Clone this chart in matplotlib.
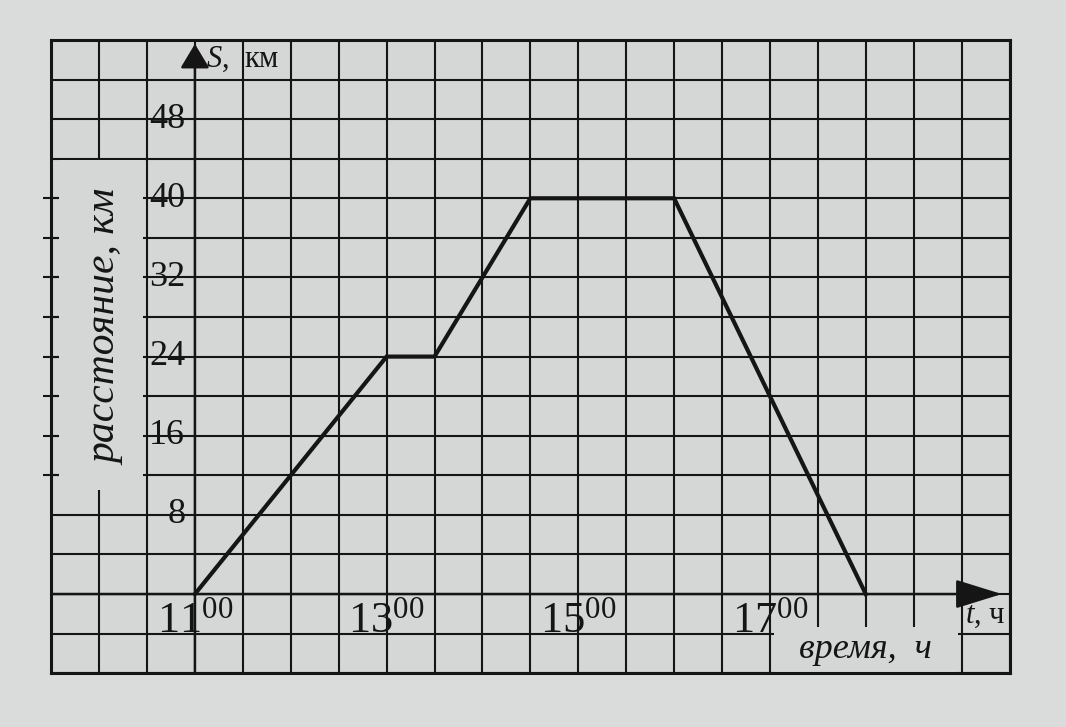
import matplotlib
matplotlib.use('Agg')
import matplotlib.pyplot as plt
import numpy as np
from matplotlib.patches import Rectangle

# route of the trip: time (hours) and distance (km)
times = [11.0, 13.0, 13.5, 14.5, 16.0, 18.0]
dist = [0, 24, 24, 40, 40, 0]

y_tick_values = [8, 16, 24, 32, 40, 48]
x_tick_hours = [11, 13, 15, 17]

paper = '#d5d7d6'
ink = '#151515'

plt.rcParams['font.family'] = ['Liberation Serif', 'DejaVu Serif']
plt.rcParams['mathtext.fontset'] = 'custom'
plt.rcParams['mathtext.rm'] = 'Liberation Serif'
plt.rcParams['mathtext.it'] = 'Liberation Serif:italic'

fig = plt.figure(figsize=(10.66, 7.27), dpi=100, facecolor='#dadcdb')
ax = fig.add_axes([0.048, 0.074, 0.899, 0.871])
ax.set_facecolor(paper)
ax.set_xlim(9.5, 19.5)
ax.set_ylim(-8, 56)

# graph paper grid: half hour columns, 4 km rows
ax.set_xticks(np.arange(9.5, 19.51, 0.5))
ax.set_yticks(np.arange(-8, 56.1, 4))
ax.tick_params(length=0, labelbottom=False, labelleft=False)
ax.grid(True, color=ink, lw=1.5)
for s in ax.spines.values():
    s.set_linewidth(2.2)
    s.set_color(ink)

# blank areas behind the axis titles
ax.add_patch(Rectangle((9.58, 10.5), 0.88, 33.4, facecolor=paper, edgecolor='none', zorder=2))
ax.add_patch(Rectangle((17.04, -8), 1.92, 4.7, facecolor=paper, edgecolor='none', zorder=2))
stub_rows = np.arange(12, 41, 4)
ax.plot([9.5] * len(stub_rows), stub_rows, ls='none', marker='_', ms=12, mew=1.5,
        color=ink, clip_on=False, zorder=3)

# axes with arrows
ax.annotate('', xy=(11, 55.6), xytext=(11, -8),
            arrowprops=dict(arrowstyle='-|>,head_length=0.75,head_width=0.45',
                            mutation_scale=20, lw=1.8, color=ink, shrinkA=0, shrinkB=0))
ax.annotate('', xy=(19.42, 0), xytext=(9.5, 0),
            arrowprops=dict(arrowstyle='-|>,head_length=1.45,head_width=0.45',
                            mutation_scale=20, lw=1.8, color=ink, shrinkA=0, shrinkB=0))

ax.plot(times, dist, color=ink, lw=3, solid_joinstyle='miter', zorder=4)

for v in y_tick_values:
    ax.text(10.9, v, str(v), ha='right', va='center', fontsize=26, color=ink, zorder=5)
for h in x_tick_hours:
    ax.text(h, -3.9, rf'${h}^{{00}}$', ha='center', va='baseline', fontsize=32,
            color=ink, zorder=5)

ax.text(11.12, 54, r'$S$,  км', ha='left', va='center', fontsize=22, color=ink, zorder=5)
ax.text(19.25, -2.2, r'$t$, ч', ha='center', va='center', fontsize=22, color=ink, zorder=5)
ax.text(18.0, -5.6, 'время,  ч', style='italic', ha='center', va='center', fontsize=26,
        color=ink, zorder=5)
ax.text(10.07, 27, 'расстояние, км', rotation=90, style='italic', ha='center', va='center',
        fontsize=30, color=ink, zorder=5)

fig.savefig('out.png', dpi=100, facecolor=fig.get_facecolor())
